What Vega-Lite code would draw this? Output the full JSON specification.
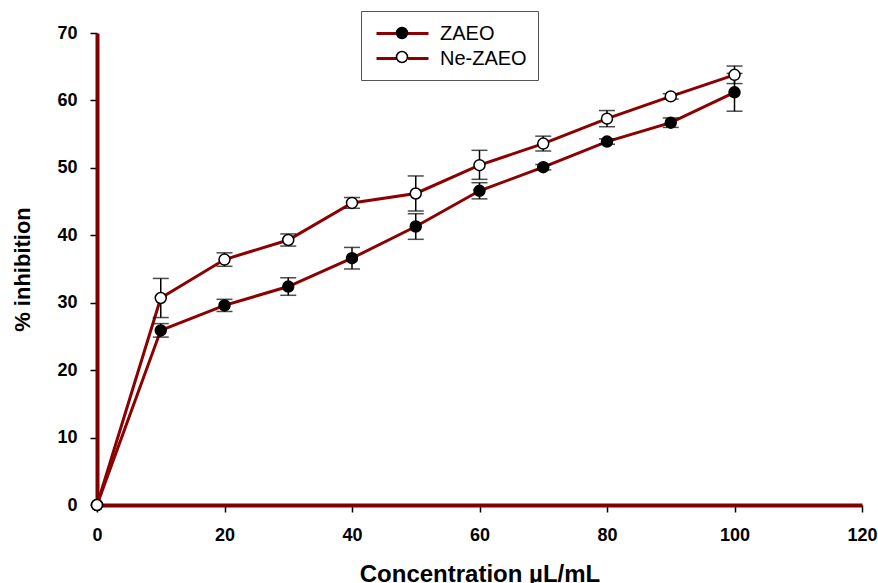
{
  "$schema": "https://vega.github.io/schema/vega-lite/v6.json",
  "width": 765,
  "height": 472,
  "autosize": "none",
  "padding": {"left": 97, "top": 33, "right": 16, "bottom": 78},
  "background": "white",
  "config": {
    "view": {"stroke": null},
    "font": "Liberation Sans",
    "axis": {
      "grid": false,
      "labelFlush": false,
      "domainColor": "#800000",
      "domainWidth": 4,
      "tickColor": "black",
      "tickWidth": 1.5,
      "tickSize": 7,
      "labelFont": "Liberation Sans",
      "labelFontWeight": "bold",
      "labelFontSize": 18,
      "labelColor": "black",
      "titleFont": "Liberation Sans",
      "titleFontWeight": "bold",
      "titleColor": "black"
    },
    "axisX": {"labelPadding": 14, "titleFontSize": 24, "titlePadding": 18},
    "axisY": {"labelPadding": 13, "titleFontSize": 22, "titlePadding": 22}
  },
  "data": {
    "values": [
      {"c": 0, "s": "ZAEO", "v": 0, "lo": null, "hi": null},
      {"c": 10, "s": "ZAEO", "v": 25.9, "lo": 24.9, "hi": 26.9},
      {"c": 20, "s": "ZAEO", "v": 29.6, "lo": 28.7, "hi": 30.5},
      {"c": 30, "s": "ZAEO", "v": 32.4, "lo": 31.1, "hi": 33.7},
      {"c": 40, "s": "ZAEO", "v": 36.6, "lo": 35.0, "hi": 38.2},
      {"c": 50, "s": "ZAEO", "v": 41.3, "lo": 39.4, "hi": 43.2},
      {"c": 60, "s": "ZAEO", "v": 46.6, "lo": 45.4, "hi": 47.8},
      {"c": 70, "s": "ZAEO", "v": 50.1, "lo": 49.7, "hi": 50.5},
      {"c": 80, "s": "ZAEO", "v": 53.9, "lo": 53.5, "hi": 54.3},
      {"c": 90, "s": "ZAEO", "v": 56.7, "lo": 56.0, "hi": 57.4},
      {"c": 100, "s": "ZAEO", "v": 61.2, "lo": 58.4, "hi": 64.0},
      {"c": 0, "s": "Ne-ZAEO", "v": 0, "lo": null, "hi": null},
      {"c": 10, "s": "Ne-ZAEO", "v": 30.7, "lo": 27.8, "hi": 33.6},
      {"c": 20, "s": "Ne-ZAEO", "v": 36.4, "lo": 35.4, "hi": 37.4},
      {"c": 30, "s": "Ne-ZAEO", "v": 39.3, "lo": 38.4, "hi": 40.2},
      {"c": 40, "s": "Ne-ZAEO", "v": 44.8, "lo": 44.0, "hi": 45.6},
      {"c": 50, "s": "Ne-ZAEO", "v": 46.2, "lo": 43.6, "hi": 48.8},
      {"c": 60, "s": "Ne-ZAEO", "v": 50.4, "lo": 48.3, "hi": 52.6},
      {"c": 70, "s": "Ne-ZAEO", "v": 53.6, "lo": 52.5, "hi": 54.7},
      {"c": 80, "s": "Ne-ZAEO", "v": 57.3, "lo": 56.1, "hi": 58.5},
      {"c": 90, "s": "Ne-ZAEO", "v": 60.6, "lo": 60.2, "hi": 61.0},
      {"c": 100, "s": "Ne-ZAEO", "v": 63.8, "lo": 62.5, "hi": 65.1}
    ]
  },
  "layer": [
    {
      "mark": {"type": "line", "strokeWidth": 3},
      "encoding": {
        "x": {"field": "c", "type": "quantitative", "title": "Concentration µL/mL",
              "scale": {"domain": [0, 120], "nice": false},
              "axis": {"values": [0, 20, 40, 60, 80, 100, 120]}},
        "y": {"field": "v", "type": "quantitative", "title": "% inhibition",
              "scale": {"domain": [0, 70], "nice": false},
              "axis": {"values": [0, 10, 20, 30, 40, 50, 60, 70]}},
        "stroke": {
          "field": "s", "type": "nominal",
          "scale": {"domain": ["ZAEO", "Ne-ZAEO"], "range": ["#8B0000", "#8B0000"]},
          "legend": {
            "orient": "none", "legendX": 264, "legendY": -22, "title": null,
            "symbolType": "M-2.6,0H-0.55M0.55,0H2.6",
            "symbolSize": 400, "symbolStrokeWidth": 3, "symbolOffset": 19,
            "labelOffset": 26, "labelFontSize": 20, "labelFont": "Liberation Sans",
            "labelColor": "black", "padding": 11, "rowPadding": 3,
            "strokeColor": "#555"
          }
        }
      }
    },
    {
      "transform": [{"filter": "datum.c > 0"}],
      "mark": {"type": "errorbar", "color": "black",
               "ticks": {"size": 16, "thickness": 1.5, "color": "black"},
               "rule": {"strokeWidth": 1.5, "color": "black"}},
      "encoding": {
        "x": {"field": "c", "type": "quantitative", "title": "Concentration µL/mL"},
        "y": {"field": "lo", "type": "quantitative", "title": "% inhibition"},
        "y2": {"field": "hi"}
      }
    },
    {
      "mark": {"type": "point", "shape": "circle", "filled": true, "size": 120,
               "stroke": "black", "strokeWidth": 1.5, "opacity": 1},
      "encoding": {
        "x": {"field": "c", "type": "quantitative", "title": "Concentration µL/mL"},
        "y": {"field": "v", "type": "quantitative", "title": "% inhibition"},
        "fill": {
          "field": "s", "type": "nominal", "sort": ["ZAEO", "Ne-ZAEO"],
          "scale": {"range": ["black", "white"]},
          "legend": {
            "orient": "none", "legendX": 264, "legendY": -22, "title": null,
            "symbolType": "M-0.55,0A0.55,0.55,0,1,0,0.55,0A0.55,0.55,0,1,0,-0.55,0Z",
            "symbolSize": 400, "symbolStrokeWidth": 1.5, "symbolStrokeColor": "black",
            "symbolOffset": 19, "labelOffset": 26, "labelFontSize": 20,
            "labelFont": "Liberation Sans", "labelOpacity": 0,
            "padding": 11, "rowPadding": 3
          }
        }
      }
    }
  ]
}
